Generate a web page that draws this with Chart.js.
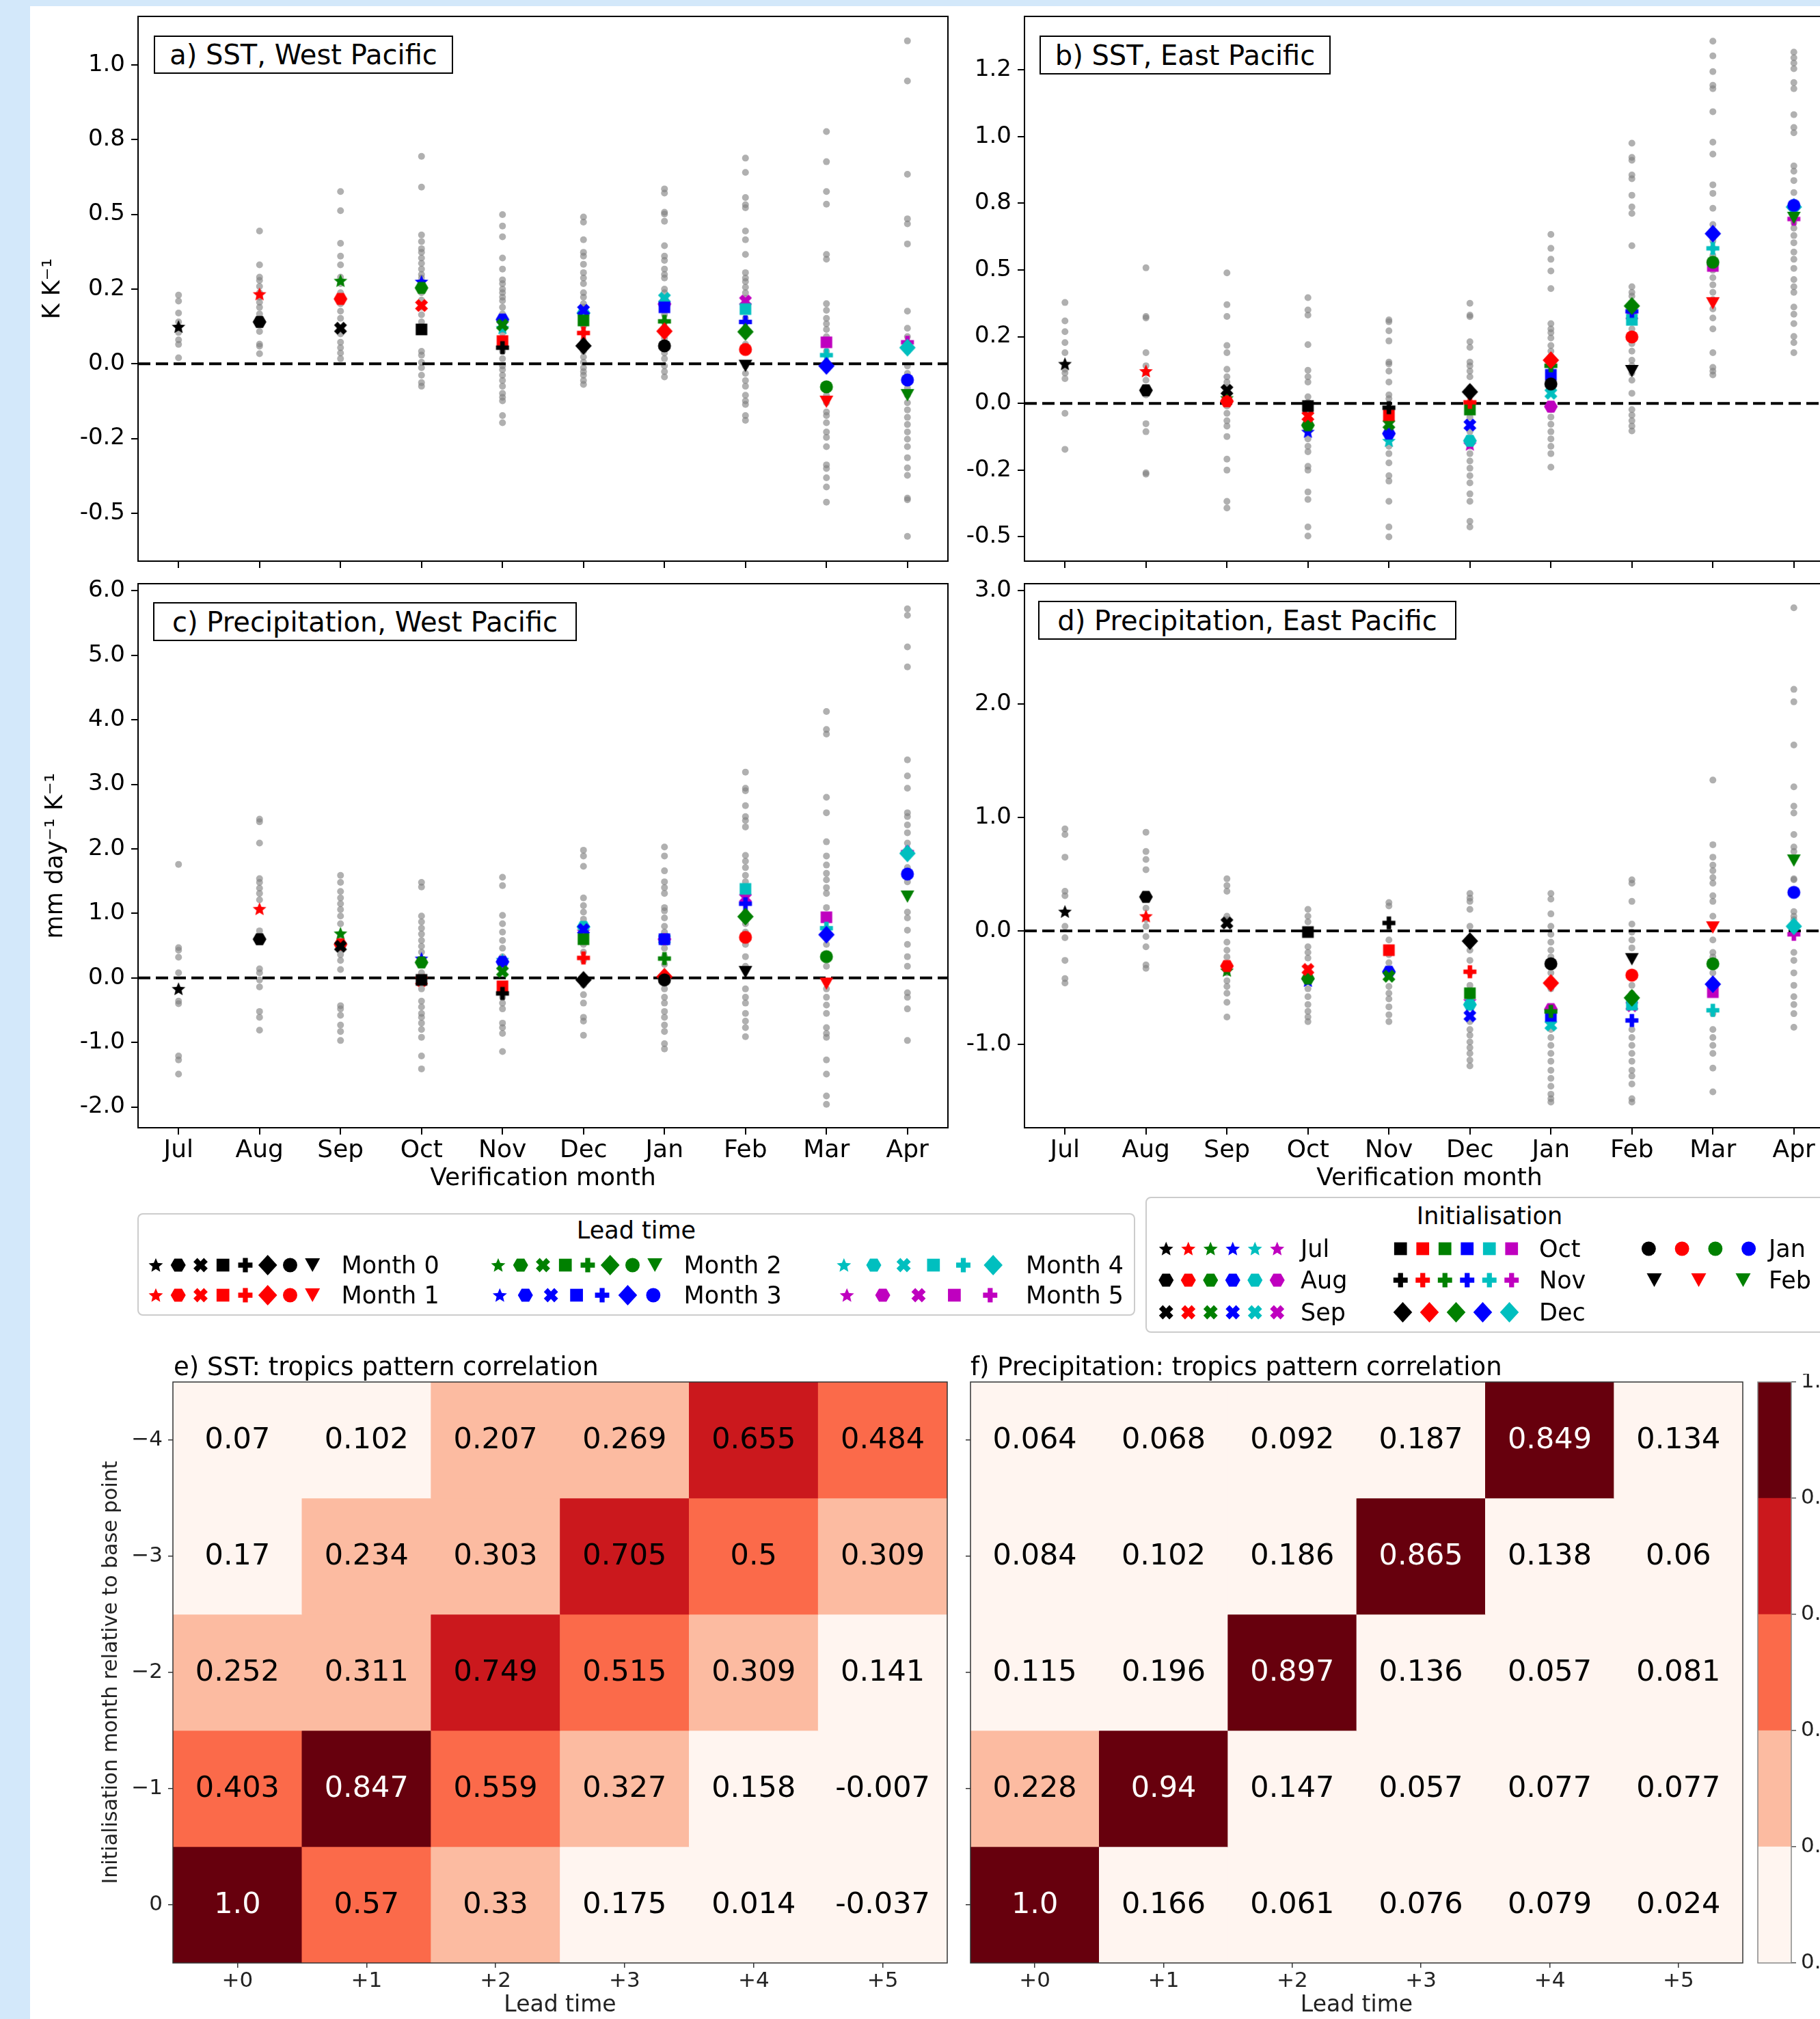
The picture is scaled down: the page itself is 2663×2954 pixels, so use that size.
<!DOCTYPE html>
<html>
<head>
<meta charset="utf-8">
<title>Regression and pattern correlation by lead time</title>
<script src="https://cdn.jsdelivr.net/npm/chart.js@4.4.1/dist/chart.umd.min.js"></script>
<style>
html, body { margin:0; padding:0; width:2663px; height:2954px; overflow:hidden; background:#d3e8fa; font-family:'DejaVu Sans', sans-serif; }
#fig { position:absolute; left:44px; top:9px; right:0; bottom:0; background:#ffffff; }
canvas { position:absolute; }
.txt { position:absolute; white-space:nowrap; color:#000; }
.lbl { position:absolute; box-sizing:border-box; border:2px solid #000; background:#fff; color:#000; display:flex; align-items:center; justify-content:center; white-space:nowrap; font-size:40px; }
.leg { position:absolute; box-sizing:border-box; border:2px solid #cccccc; border-radius:8px; background:#fff; }
</style>
</head>
<body>
<div id="fig"></div>
<script>
// ---------------- categories / labels ----------------
const months = ['Jul','Aug','Sep','Oct','Nov','Dec','Jan','Feb','Mar','Apr'];
const initNames = ['Jul','Aug','Sep','Oct','Nov','Dec','Jan','Feb'];
const leadNames = ['Month 0','Month 1','Month 2','Month 3','Month 4','Month 5'];
const leadTickLabels = ['+0','+1','+2','+3','+4','+5'];
const corrRowLabels = ['\u22124','\u22123','\u22122','\u22121','0'];

// y tick values / labels
const sstWestTicks = [-0.5,-0.25,0,0.25,0.5,0.75,1.0];
const sstWestTickLabels = ['-0.5','-0.2','0.0','0.2','0.5','0.8','1.0'];
const sstEastTicks = [-0.5,-0.25,0,0.25,0.5,0.75,1.0,1.25];
const sstEastTickLabels = ['-0.5','-0.2','0.0','0.2','0.5','0.8','1.0','1.2'];
const prWestTicks = [-2,-1,0,1,2,3,4,5,6];
const prWestTickLabels = ['-2.0','-1.0','0.0','1.0','2.0','3.0','4.0','5.0','6.0'];
const prEastTicks = [-1,0,1,2,3];
const prEastTickLabels = ['-1.0','0.0','1.0','2.0','3.0'];

// ---------------- a) SST, West Pacific ----------------
const aLead0 = [0.124, 0.140, 0.119, 0.115, 0.054, 0.060, 0.060, -0.007, null, null];
const aLead1 = [null, 0.233, 0.217, 0.195, 0.076, 0.103, 0.109, 0.048, -0.127, null];
const aLead2 = [null, null, 0.278, 0.254, 0.130, 0.145, 0.142, 0.107, -0.077, -0.105];
const aLead3 = [null, null, null, 0.275, 0.148, 0.179, 0.189, 0.140, -0.007, -0.054];
const aLead4 = [null, null, null, null, 0.120, 0.170, 0.219, 0.183, 0.029, 0.054];
const aLead5 = [null, null, null, null, null, 0.165, 0.200, 0.210, 0.072, 0.072];
const aSpread = [
  [0.23, 0.21, 0.17, 0.14, 0.12, 0.105, 0.08, 0.065, 0.02],
  [0.444, 0.331, 0.29, 0.279, 0.259, 0.238, 0.223, 0.206, 0.189, 0.167, 0.15, 0.14, 0.108, 0.066, 0.059, 0.034],
  [0.576, 0.512, 0.403, 0.36, 0.331, 0.29, 0.268, 0.238, 0.201, 0.176, 0.152, 0.119, 0.1, 0.072, 0.054, 0.036, 0.017],
  [0.694, 0.591, 0.431, 0.409, 0.385, 0.373, 0.354, 0.336, 0.317, 0.299, 0.287, 0.262, 0.238, 0.213, 0.189, 0.164, 0.14, 0.042, 0.029, 0.005, -0.013, -0.038, -0.063, -0.075],
  [0.499, 0.461, 0.425, 0.354, 0.317, 0.281, 0.268, 0.25, 0.238, 0.223, 0.211, 0.189, 0.167, 0.14, 0.115, 0.103, 0.042, 0.017, -0.007, -0.02, -0.038, -0.056, -0.075, -0.099, -0.112, -0.124, -0.173, -0.197],
  [0.491, 0.474, 0.415, 0.373, 0.36, 0.333, 0.305, 0.287, 0.268, 0.238, 0.223, 0.201, 0.189, 0.164, 0.127, 0.103, 0.078, 0.042, 0.023, 0.005, -0.013, -0.026, -0.038, -0.056, -0.069],
  [0.585, 0.571, 0.507, 0.501, 0.477, 0.395, 0.36, 0.346, 0.317, 0.299, 0.287, 0.25, 0.238, 0.219, 0.207, 0.189, 0.164, 0.14, 0.109, 0.085, 0.054, 0.036, 0.017, -0.007, -0.026, -0.044],
  [0.688, 0.64, 0.556, 0.532, 0.522, 0.444, 0.415, 0.366, 0.305, 0.287, 0.275, 0.256, 0.238, 0.219, 0.201, 0.176, 0.152, 0.115, 0.066, 0.042, -0.007, -0.032, -0.056, -0.075, -0.105, -0.124, -0.136, -0.173, -0.189],
  [0.777, 0.676, 0.576, 0.534, 0.366, 0.35, 0.201, 0.179, 0.152, 0.134, 0.115, 0.091, 0.066, 0.042, 0.005, -0.069, -0.105, -0.13, -0.161, -0.173, -0.197, -0.228, -0.246, -0.277, -0.338, -0.35, -0.381, -0.412, -0.463],
  [1.08, 0.946, 0.634, 0.485, 0.468, 0.401, 0.176, 0.119, 0.091, 0.042, -0.007, -0.032, -0.063, -0.081, -0.105, -0.13, -0.154, -0.179, -0.203, -0.228, -0.252, -0.277, -0.314, -0.348, -0.373, -0.449, -0.455, -0.577]
];

// ---------------- b) SST, East Pacific ----------------
const bLead0 = [0.148, 0.049, 0.049, -0.010, -0.016, 0.043, 0.073, 0.121, null, null];
const bLead1 = [null, 0.121, 0.008, -0.048, -0.044, 0.004, 0.162, 0.249, 0.375, null];
const bLead2 = [null, null, 0.020, -0.082, -0.078, -0.023, 0.141, 0.365, 0.529, 0.695];
const bLead3 = [null, null, null, -0.106, -0.113, -0.081, 0.107, 0.345, 0.636, 0.742];
const bLead4 = [null, null, null, null, -0.140, -0.140, 0.038, 0.313, 0.581, 0.736];
const bLead5 = [null, null, null, null, null, -0.154, -0.012, 0.330, 0.515, 0.691];
const bSpread = [
  [0.378, 0.309, 0.269, 0.228, 0.19, 0.128, 0.114, 0.093, -0.037, -0.172],
  [0.508, 0.326, 0.32, 0.19, 0.141, 0.114, 0.087, 0.059, 0.032, -0.076, -0.106, -0.26, -0.265],
  [0.489, 0.37, 0.326, 0.217, 0.19, 0.128, 0.1, 0.08, 0.059, 0.038, 0.018, -0.01, -0.037, -0.065, -0.085, -0.124, -0.209, -0.25, -0.367, -0.392],
  [0.396, 0.35, 0.331, 0.22, 0.124, 0.1, 0.08, 0.025, 0.004, -0.037, -0.106, -0.133, -0.161, -0.181, -0.236, -0.25, -0.332, -0.36, -0.463, -0.497],
  [0.313, 0.306, 0.272, 0.234, 0.155, 0.148, 0.121, 0.08, 0.032, 0.018, -0.037, -0.078, -0.133, -0.161, -0.188, -0.223, -0.271, -0.291, -0.367, -0.463, -0.5],
  [0.375, 0.331, 0.325, 0.231, 0.21, 0.155, 0.141, 0.121, 0.1, 0.059, 0.032, 0.004, -0.051, -0.078, -0.106, -0.161, -0.188, -0.216, -0.243, -0.271, -0.298, -0.339, -0.367, -0.442, -0.463],
  [0.633, 0.581, 0.54, 0.496, 0.43, 0.299, 0.279, 0.265, 0.245, 0.217, 0.196, 0.176, 0.155, 0.135, 0.114, 0.087, 0.059, -0.023, -0.051, -0.078, -0.106, -0.133, -0.161, -0.188, -0.239],
  [0.975, 0.922, 0.911, 0.856, 0.842, 0.78, 0.736, 0.712, 0.591, 0.437, 0.416, 0.402, 0.334, 0.306, 0.279, 0.251, 0.224, 0.196, 0.162, 0.141, 0.114, 0.087, 0.038, -0.023, -0.044, -0.065, -0.085, -0.103],
  [1.357, 1.302, 1.243, 1.192, 1.179, 1.093, 0.979, 0.934, 0.819, 0.787, 0.731, 0.67, 0.636, 0.609, 0.581, 0.554, 0.499, 0.471, 0.444, 0.416, 0.389, 0.354, 0.32, 0.279, 0.19, 0.135, 0.121, 0.107],
  [1.316, 1.295, 1.275, 1.254, 1.202, 1.179, 1.082, 1.034, 1.014, 0.89, 0.87, 0.835, 0.79, 0.732, 0.677, 0.657, 0.629, 0.602, 0.567, 0.54, 0.506, 0.464, 0.437, 0.416, 0.361, 0.334, 0.299, 0.251, 0.228, 0.19]
];

// ---------------- c) Precipitation, West Pacific ----------------
const cLead0 = [-0.17, 0.60, 0.49, -0.03, -0.24, -0.03, -0.03, 0.09, null, null];
const cLead1 = [null, 1.07, 0.52, -0.04, -0.13, 0.31, 0.02, 0.63, -0.09, null];
const cLead2 = [null, null, 0.69, 0.24, 0.10, 0.60, 0.30, 0.95, 0.33, 1.26];
const cLead3 = [null, null, null, 0.30, 0.25, 0.75, 0.60, 1.15, 0.67, 1.61];
const cLead4 = [null, null, null, null, 0.28, 0.79, 0.60, 1.38, 0.77, 1.93];
const cLead5 = [null, null, null, null, null, 0.72, 0.60, 1.24, 0.94, 1.95];
const cSpread = [
  [1.76, 0.47, 0.43, 0.32, 0.08, -0.36, -0.40, -1.21, -1.27, -1.49],
  [2.46, 2.42, 2.09, 1.54, 1.48, 1.39, 1.31, 1.21, 0.73, 0.14, 0.08, -0.03, -0.14, -0.52, -0.61, -0.81],
  [1.59, 1.48, 1.34, 1.24, 1.15, 1.06, 0.96, 0.84, 0.58, 0.46, 0.36, 0.27, 0.13, -0.43, -0.48, -0.58, -0.73, -0.83, -0.97],
  [1.48, 1.41, 0.96, 0.87, 0.77, 0.68, 0.58, 0.49, 0.40, 0.08, -0.17, -0.36, -0.45, -0.55, -0.61, -0.70, -0.80, -0.92, -1.21, -1.41],
  [1.56, 1.43, 0.97, 0.84, 0.71, 0.58, 0.46, 0.33, -0.17, -0.30, -0.39, -0.48, -0.70, -0.77, -0.86, -1.14],
  [1.98, 1.89, 1.73, 1.24, 1.12, 1.02, 0.91, 0.80, 0.68, 0.52, 0.40, 0.27, -0.11, -0.26, -0.39, -0.61, -0.67, -0.89],
  [2.03, 1.89, 1.66, 1.49, 1.40, 1.31, 1.09, 1.04, 0.93, 0.80, 0.71, 0.46, 0.33, 0.21, -0.17, -0.30, -0.39, -0.52, -0.61, -0.73, -0.83, -1.02, -1.10],
  [3.19, 2.94, 2.90, 2.67, 2.50, 2.44, 2.34, 1.90, 1.81, 1.71, 1.59, 1.49, 1.34, 1.02, 0.84, 0.71, 0.52, 0.33, 0.18, -0.17, -0.30, -0.39, -0.55, -0.67, -0.77, -0.91],
  [4.13, 3.85, 3.78, 2.80, 2.56, 2.11, 1.89, 1.75, 1.62, 1.52, 1.40, 1.31, 1.09, 0.90, 0.71, 0.52, 0.33, 0.18, -0.17, -0.30, -0.42, -0.55, -0.77, -0.86, -0.92, -1.27, -1.49, -1.83, -1.96],
  [5.72, 5.62, 5.13, 4.82, 3.38, 3.13, 2.94, 2.56, 2.50, 2.37, 2.25, 2.09, 1.71, 1.49, 1.02, 0.93, 0.74, 0.52, 0.33, 0.18, -0.23, -0.30, -0.48, -0.97]
];

// ---------------- d) Precipitation, East Pacific ----------------
const dLead0 = [0.17, 0.30, 0.07, -0.01, 0.07, -0.09, -0.29, -0.25, null, null];
const dLead1 = [null, 0.13, -0.31, -0.34, -0.17, -0.36, -0.46, -0.39, 0.03, null];
const dLead2 = [null, null, -0.35, -0.42, -0.40, -0.55, -0.71, -0.59, -0.29, 0.62];
const dLead3 = [null, null, null, -0.44, -0.36, -0.75, -0.75, -0.79, -0.47, 0.34];
const dLead4 = [null, null, null, null, -0.38, -0.65, -0.83, -0.65, -0.70, 0.04];
const dLead5 = [null, null, null, null, null, -0.62, -0.69, -0.66, -0.54, -0.03];
const dSpread = [
  [0.90, 0.85, 0.65, 0.35, 0.31, 0.04, -0.06, -0.26, -0.42, -0.46],
  [0.87, 0.70, 0.63, 0.54, 0.31, 0.20, 0.10, 0.04, -0.05, -0.14, -0.30, -0.33],
  [0.46, 0.40, 0.35, 0.13, 0.10, -0.10, -0.17, -0.23, -0.30, -0.37, -0.44, -0.49, -0.55, -0.63, -0.76],
  [0.19, 0.13, 0.08, -0.14, -0.19, -0.24, -0.33, -0.39, -0.51, -0.58, -0.65, -0.71, -0.76, -0.80],
  [0.25, 0.22, -0.08, -0.15, -0.21, -0.28, -0.40, -0.49, -0.55, -0.60, -0.67, -0.74, -0.80],
  [0.33, 0.29, 0.26, 0.19, 0.04, -0.06, -0.17, -0.26, -0.37, -0.48, -0.58, -0.80, -0.87, -0.92, -0.98, -1.03, -1.08, -1.14, -1.19],
  [0.33, 0.28, 0.15, 0.04, -0.03, -0.10, -0.17, -0.23, -0.37, -0.51, -0.87, -0.94, -1.01, -1.08, -1.15, -1.23, -1.30, -1.37, -1.44, -1.48, -1.51],
  [0.45, 0.42, 0.26, 0.06, -0.01, -0.08, -0.15, -0.23, -0.48, -0.55, -0.87, -0.94, -1.01, -1.08, -1.15, -1.23, -1.28, -1.35, -1.48, -1.51],
  [1.33, 0.76, 0.65, 0.58, 0.53, 0.47, 0.42, 0.31, 0.26, 0.13, -0.08, -0.19, -0.23, -0.37, -0.51, -0.73, -0.87, -0.94, -1.01, -1.08, -1.21, -1.42],
  [2.85, 2.13, 2.02, 1.64, 1.27, 1.10, 1.04, 0.85, 0.74, 0.70, 0.46, 0.45, 0.17, 0.13, 0.10, -0.19, -0.26, -0.37, -0.48, -0.58, -0.65, -0.73, -0.85]
];

// ---------------- e) / f) pattern correlations (rows -4 .. 0, cols +0 .. +5) ----------------
const sstCorr = [
  [0.07, 0.102, 0.207, 0.269, 0.655, 0.484],
  [0.17, 0.234, 0.303, 0.705, 0.5, 0.309],
  [0.252, 0.311, 0.749, 0.515, 0.309, 0.141],
  [0.403, 0.847, 0.559, 0.327, 0.158, -0.007],
  [1.0, 0.57, 0.33, 0.175, 0.014, -0.037]
];
const prCorr = [
  [0.064, 0.068, 0.092, 0.187, 0.849, 0.134],
  [0.084, 0.102, 0.186, 0.865, 0.138, 0.06],
  [0.115, 0.196, 0.897, 0.136, 0.057, 0.081],
  [0.228, 0.94, 0.147, 0.057, 0.077, 0.077],
  [1.0, 0.166, 0.061, 0.076, 0.079, 0.024]
];
const cbBounds = [0, 0.2, 0.4, 0.6, 0.8, 1.0];
const cbTickLabels = ['0.0','0.2','0.4','0.6','0.8','1.0'];

// ---------------- styles ----------------
const initShapes = ['star','hexagon','xfill','square','plusfill','diamond','circle','triangleDown'];
const leadColors = ['#000000','#ff0000','#008000','#0000ff','#00bfbf','#bf00bf'];
const cbColors = ['#fff5f0','#fcbba1','#fb6a4a','#cb181d','#67000d'];
const GRAY = 'rgba(128,128,128,0.62)';
const FONT = "'DejaVu Sans', sans-serif";
Chart.defaults.font.family = FONT;
Chart.defaults.color = '#000';

// ---------------- marker drawing ----------------
function plusPath(ctx, a, b) {
  const p = [[-b,-a],[b,-a],[b,-b],[a,-b],[a,b],[b,b],[b,a],[-b,a],[-b,b],[-a,b],[-a,-b],[-b,-b]];
  p.forEach((q, k) => k ? ctx.lineTo(q[0], q[1]) : ctx.moveTo(q[0], q[1]));
}
function drawMarker(ctx, shape, x, y, s, color) {
  ctx.save();
  ctx.translate(x, y);
  ctx.fillStyle = color;
  ctx.beginPath();
  if (shape === 'star') {
    const R = 10.5 * s, r = R * 0.45;
    for (let k = 0; k < 10; k++) {
      const ang = -Math.PI / 2 + k * Math.PI / 5, rr = (k % 2) ? r : R;
      k ? ctx.lineTo(rr * Math.cos(ang), rr * Math.sin(ang) + 0.8 * s) : ctx.moveTo(rr * Math.cos(ang), rr * Math.sin(ang) + 0.8 * s);
    }
  } else if (shape === 'hexagon') {
    const R = 10 * s;
    for (let k = 0; k < 6; k++) {
      const ang = k * Math.PI / 3;
      k ? ctx.lineTo(R * Math.cos(ang), R * Math.sin(ang)) : ctx.moveTo(R * Math.cos(ang), R * Math.sin(ang));
    }
  } else if (shape === 'xfill') {
    ctx.rotate(Math.PI / 4);
    plusPath(ctx, 9.8 * s, 3.6 * s);
  } else if (shape === 'square') {
    const h = 8.5 * s;
    ctx.rect(-h, -h, 2 * h, 2 * h);
  } else if (shape === 'plusfill') {
    plusPath(ctx, 9.5 * s, 3.3 * s);
  } else if (shape === 'diamond') {
    const h = 13 * s, w = 12 * s;
    ctx.moveTo(0, -h); ctx.lineTo(w, 0); ctx.lineTo(0, h); ctx.lineTo(-w, 0);
  } else if (shape === 'circle') {
    ctx.arc(0, 0, 9.5 * s, 0, Math.PI * 2);
  } else if (shape === 'triangleDown') {
    ctx.moveTo(-10 * s, -9 * s); ctx.lineTo(10 * s, -9 * s); ctx.lineTo(0, 9 * s);
  }
  ctx.closePath();
  ctx.fill();
  ctx.restore();
}
const markerCache = {};
function markerImg(shape, color) {
  const key = shape + color;
  if (!markerCache[key]) {
    const c = document.createElement('canvas');
    c.width = 40; c.height = 40;
    drawMarker(c.getContext('2d'), shape, 20, 20, 1, color);
    markerCache[key] = c;
  }
  return markerCache[key];
}
function legendScale(shape) { return shape === 'star' ? 1.05 : (shape === 'diamond' ? 1.15 : 1.1); }

// ---------------- helpers ----------------
function makeCanvas(left, top, w, h) {
  const c = document.createElement('canvas');
  c.width = w; c.height = h;
  c.style.left = left + 'px'; c.style.top = top + 'px';
  c.style.width = w + 'px'; c.style.height = h + 'px';
  document.body.appendChild(c);
  return c;
}
function addText(txt, x, y, size, center) {
  const d = document.createElement('div');
  d.className = 'txt';
  d.textContent = txt;
  d.style.fontSize = size + 'px';
  d.style.lineHeight = size + 'px';
  d.style.top = (y - size / 2) + 'px';
  d.style.left = x + 'px';
  if (center) d.style.transform = 'translateX(-50%)';
  document.body.appendChild(d);
  return d;
}
function addBox(cls, left, top, w, h, txt) {
  const d = document.createElement('div');
  d.className = cls;
  d.style.left = left + 'px'; d.style.top = top + 'px';
  d.style.width = w + 'px'; d.style.height = h + 'px';
  if (txt) d.textContent = txt;
  document.body.appendChild(d);
  return d;
}

const framePlugin = {
  id: 'frame',
  afterDatasetsDraw(chart, args, opts) {
    const {left, top, right, bottom} = chart.chartArea;
    const ctx = chart.ctx;
    ctx.save();
    ctx.strokeStyle = opts.color || '#000';
    ctx.lineWidth = opts.width || 2;
    ctx.strokeRect(left, top, right - left, bottom - top);
    ctx.restore();
  }
};
const zeroLinePlugin = {
  id: 'zeroLine',
  afterDatasetDraw(chart, args) {
    if (args.index !== 0) return;
    const y = chart.scales.y.getPixelForValue(0);
    const {left, right} = chart.chartArea;
    const ctx = chart.ctx;
    ctx.save();
    ctx.strokeStyle = '#000';
    ctx.lineWidth = 4;
    ctx.setLineDash([18, 8]);
    ctx.beginPath();
    ctx.moveTo(left, y); ctx.lineTo(right, y);
    ctx.stroke();
    ctx.restore();
  }
};
function fmtCorr(v) { return Number.isInteger(v) ? v.toFixed(1) : String(v); }
function corrColor(v) {
  let k = Math.floor(v / 0.2);
  if (k < 0) k = 0;
  if (k > 4) k = 4;
  return cbColors[k];
}
const cellTextPlugin = {
  id: 'cellText',
  afterDatasetsDraw(chart) {
    const ctx = chart.ctx;
    ctx.save();
    ctx.font = '43px ' + FONT;
    ctx.textAlign = 'center';
    ctx.textBaseline = 'middle';
    chart.data.datasets.forEach((ds, i) => {
      chart.getDatasetMeta(i).data.forEach((el, j) => {
        const v = ds.cellValues[j];
        ctx.fillStyle = v >= 0.8 ? '#ffffff' : '#000000';
        ctx.fillText(fmtCorr(v), el.x, (el.y + el.base) / 2 + 1);
      });
    });
    ctx.restore();
  }
};

// ---------------- scatter panels ----------------
function scatterPanel(o) {
  const cv = makeCanvas(o.cl, o.ct, o.cw, o.ch);
  const datasets = [{
    data: o.spread.flatMap((vals, i) => vals.map(v => ({x: i, y: v}))),
    pointRadius: 5, pointBackgroundColor: GRAY, pointBorderWidth: 0, order: 10
  }];
  o.leads.forEach((vals, L) => {
    const pts = [], styles = [];
    vals.forEach((v, i) => {
      if (v !== null) {
        pts.push({x: i, y: v});
        styles.push(markerImg(initShapes[i - L], leadColors[L]));
      }
    });
    datasets.push({data: pts, pointStyle: styles, pointRadius: 10, pointBorderWidth: 0, order: L});
  });
  new Chart(cv, {
    type: 'scatter',
    data: {datasets},
    options: {
      responsive: false, animation: false, devicePixelRatio: 1, events: [],
      layout: {padding: {left: 0, top: o.padTop, right: o.padRight, bottom: 0}},
      plugins: {legend: {display: false}, tooltip: {enabled: false}, frame: {color: '#000', width: 2}},
      scales: {
        x: {
          type: 'linear', min: -0.5, max: 9.5, bounds: 'data',
          afterBuildTicks: s => { s.ticks = months.map((m, i) => ({value: i})); },
          ticks: {display: o.xLabels, callback: (v, i) => months[i], font: {size: 36}, color: '#000', padding: 2, maxRotation: 0, minRotation: 0, autoSkip: false},
          grid: {display: true, drawOnChartArea: false, drawTicks: true, tickLength: 10, tickWidth: 2, lineWidth: 2, color: '#000'},
          border: {display: false},
          title: {display: o.xLabels, text: 'Verification month', font: {size: 36}, color: '#000', padding: {top: 0, bottom: 0}},
          afterFit: s => { s.height = o.xh; s.paddingLeft = 0; s.paddingRight = 0; }
        },
        y: {
          type: 'linear', min: o.ymin, max: o.ymax, bounds: 'data',
          afterBuildTicks: s => { s.ticks = o.yTicks.map(v => ({value: v})); },
          ticks: {callback: (v, i) => o.yTickLabels[i], font: {size: 34}, color: '#000', padding: 9, autoSkip: false},
          grid: {display: true, drawOnChartArea: false, drawTicks: true, tickLength: 10, tickWidth: 2, lineWidth: 2, color: '#000'},
          border: {display: false},
          title: {display: !!o.yTitle, text: o.yTitle || '', font: {size: 35}, color: '#000', padding: {top: o.yTitlePad || 0, bottom: 0}},
          afterFit: s => { s.width = o.yw; s.paddingTop = 0; s.paddingBottom = 0; }
        }
      }
    },
    plugins: [framePlugin, zeroLinePlugin]
  });
}

scatterPanel({cl: 44, ct: 0, cw: 1356, ch: 850, padTop: 24, padRight: 13, yw: 158, xh: 29, xLabels: false,
  ymin: -0.660, ymax: 1.162, yTicks: sstWestTicks, yTickLabels: sstWestTickLabels,
  yTitle: 'K K\u207B\u00B9', yTitlePad: 13,
  spread: aSpread, leads: [aLead0, aLead1, aLead2, aLead3, aLead4, aLead5]});
scatterPanel({cl: 1390, ct: 0, cw: 1310, ch: 850, padTop: 24, padRight: 16, yw: 109, xh: 29, xLabels: false,
  ymin: -0.591, ymax: 1.450, yTicks: sstEastTicks, yTickLabels: sstEastTickLabels,
  spread: bSpread, leads: [bLead0, bLead1, bLead2, bLead3, bLead4, bLead5]});
scatterPanel({cl: 44, ct: 815, cw: 1356, ch: 931, padTop: 39, padRight: 13, yw: 158, xh: 96, xLabels: true,
  ymin: -2.322, ymax: 6.110, yTicks: prWestTicks, yTickLabels: prWestTickLabels,
  yTitle: 'mm day\u207B\u00B9 K\u207B\u00B9', yTitlePad: 17,
  spread: cSpread, leads: [cLead0, cLead1, cLead2, cLead3, cLead4, cLead5]});
scatterPanel({cl: 1390, ct: 815, cw: 1310, ch: 931, padTop: 39, padRight: 16, yw: 109, xh: 96, xLabels: true,
  ymin: -1.736, ymax: 3.062, yTicks: prEastTicks, yTickLabels: prEastTickLabels,
  spread: dSpread, leads: [dLead0, dLead1, dLead2, dLead3, dLead4, dLead5]});

// panel labels
addBox('lbl', 225, 52, 438, 56, 'a) SST, West Pacific');
addBox('lbl', 1521, 52, 426, 57, 'b) SST, East Pacific');
addBox('lbl', 224, 881, 620, 57, 'c) Precipitation, West Pacific');
addBox('lbl', 1519, 879, 612, 57, 'd) Precipitation, East Pacific');

// ---------------- legends ----------------
const leadsAll = [aLead0, aLead1, aLead2, aLead3, aLead4, aLead5];
// Lead time legend
addBox('leg', 201, 1775, 1460, 150);
addText('Lead time', 931, 1800, 35, true);
(function () {
  const cv = makeCanvas(201, 1775, 1460, 150);
  const ctx = cv.getContext('2d');
  const colX0 = [211.6, 712.6, 1213], W = 262, rowY = [1851, 1895];
  leadNames.forEach((name, L) => {
    const col = Math.floor(L / 2), row = L % 2;
    const inits = [];
    initNames.forEach((n, i) => { if (i + L < months.length && leadsAll[L][i + L] !== null) inits.push(i); });
    const n = inits.length;
    inits.forEach((i, k) => {
      const cx = colX0[col] + (k + 0.5) * W / n;
      drawMarker(ctx, initShapes[i], cx - 201, rowY[row] - 1775, legendScale(initShapes[i]), leadColors[L]);
    });
    addText(name, colX0[col] + 288, rowY[row], 35, false);
  });
})();
// Initialisation legend
addBox('leg', 1676, 1751, 1100, 199);
addText('Initialisation', 2179.5, 1779, 35, true);
(function () {
  const cv = makeCanvas(1676, 1751, 990, 199);
  const ctx = cv.getContext('2d');
  const colX0 = [1690, 2033, 2388], W = 195, textX = [1903, 2252, 2588], rowY = [1827, 1873, 1920];
  initNames.forEach((name, i) => {
    const col = Math.floor(i / 3), row = i % 3;
    const leads = [];
    leadsAll.forEach((arr, L) => { if (i + L < months.length && arr[i + L] !== null) leads.push(L); });
    const n = leads.length;
    leads.forEach((L, k) => {
      const cx = colX0[col] + (k + 0.5) * W / n;
      drawMarker(ctx, initShapes[i], cx - 1676, rowY[row] - 1751, legendScale(initShapes[i]), leadColors[L]);
    });
    addText(name, textX[col], rowY[row], 35, false);
  });
})();

// ---------------- heatmaps ----------------
function heatmap(o) {
  const cv = makeCanvas(o.cl, o.ct, o.cw, o.ch);
  const datasets = o.corr.map((row, r) => ({
    data: row.map(() => [r, r + 1]),
    backgroundColor: row.map(corrColor),
    cellValues: row,
    barPercentage: 1, categoryPercentage: 1, borderWidth: 0, grouped: false
  }));
  new Chart(cv, {
    type: 'bar',
    data: {labels: leadTickLabels, datasets},
    options: {
      responsive: false, animation: false, devicePixelRatio: 1, events: [],
      layout: {padding: {left: 0, top: o.padTop, right: o.padRight, bottom: 0}},
      plugins: {legend: {display: false}, tooltip: {enabled: false}, frame: {color: '#333', width: 1.5}},
      scales: {
        x: {
          grid: {display: true, offset: false, drawOnChartArea: false, drawTicks: true, tickLength: 7, tickWidth: 1.5, lineWidth: 1.5, color: '#333'},
          border: {display: false},
          ticks: {font: {size: 31}, color: '#222', padding: 1, maxRotation: 0, minRotation: 0, autoSkip: false},
          title: {display: true, text: 'Lead time', font: {size: 33}, color: '#222', padding: {top: 0, bottom: 0}},
          afterFit: s => { s.height = o.xh; s.paddingLeft = 0; s.paddingRight = 0; }
        },
        y: {
          type: 'linear', min: 0, max: 5, reverse: true, bounds: 'data',
          afterBuildTicks: s => { s.ticks = corrRowLabels.map((l, r) => ({value: r + 0.5})); },
          ticks: {display: o.yLabels, callback: (v, i) => corrRowLabels[i], font: {size: 31}, color: '#222', padding: 8, autoSkip: false},
          grid: {display: true, drawOnChartArea: false, drawTicks: true, tickLength: 7, tickWidth: 1.5, lineWidth: 1.5, color: '#333'},
          border: {display: false},
          title: {display: o.yLabels, text: 'Initialisation month relative to base point', font: {size: 30}, color: '#222', padding: {top: 45, bottom: 0}},
          afterFit: s => { s.width = o.yw; s.paddingTop = 0; s.paddingBottom = 0; }
        }
      }
    },
    plugins: [framePlugin, cellTextPlugin]
  });
}
heatmap({cl: 100, ct: 2010, cw: 1300, ch: 944, padTop: 12, padRight: 14, yw: 153, xh: 82, yLabels: true, corr: sstCorr});
heatmap({cl: 1380, ct: 2010, cw: 1283, ch: 944, padTop: 12, padRight: 113, yw: 40, xh: 82, yLabels: false, corr: prCorr});
addText('e) SST: tropics pattern correlation', 254, 1999, 37, false);
addText('f) Precipitation: tropics pattern correlation', 1420, 1999, 37, false);

// ---------------- colour bar ----------------
(function () {
  const cv = makeCanvas(2540, 2010, 200, 944);
  new Chart(cv, {
    type: 'bar',
    data: {
      labels: [''],
      datasets: cbColors.map((c, k) => ({
        data: [[cbBounds[k], cbBounds[k + 1]]], backgroundColor: c,
        barPercentage: 1, categoryPercentage: 1, borderWidth: 0, grouped: false
      }))
    },
    options: {
      responsive: false, animation: false, devicePixelRatio: 1, events: [],
      layout: {padding: {left: 32, top: 12, right: 0, bottom: 82}},
      plugins: {legend: {display: false}, tooltip: {enabled: false}, frame: {color: '#888', width: 1.5}},
      scales: {
        x: {display: false},
        y: {
          position: 'right', type: 'linear', min: 0, max: 1, bounds: 'data',
          afterBuildTicks: s => { s.ticks = cbBounds.map(v => ({value: v})); },
          ticks: {callback: (v, i) => cbTickLabels[i], font: {size: 31}, color: '#222', padding: 7, autoSkip: false},
          grid: {display: true, drawOnChartArea: false, drawTicks: true, tickLength: 7, tickWidth: 1.5, lineWidth: 1.5, color: '#555'},
          border: {display: false},
          afterFit: s => { s.width = 119; s.paddingTop = 0; s.paddingBottom = 0; }
        }
      }
    },
    plugins: [framePlugin]
  });
})();
</script>
</body>
</html>
